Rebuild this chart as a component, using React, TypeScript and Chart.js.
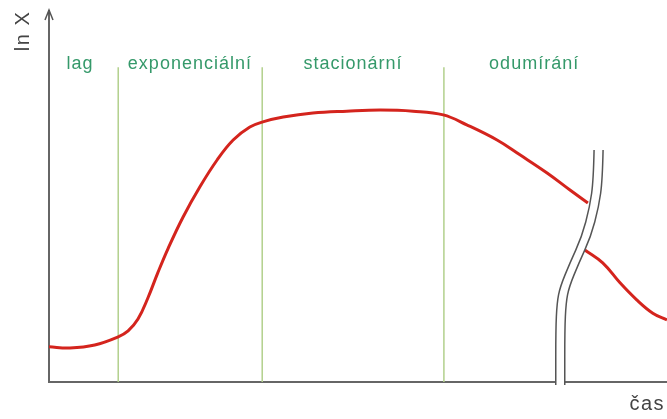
import { useEffect, useRef } from "react";
import { Chart, registerables } from "chart.js";

Chart.register(...registerables);

// Growth curve, first part (time, ln X)
const growthTime = [0, 3.4, 7.4, 11.2, 12.8, 14.4, 16.0, 17.6, 19.3, 21.7, 24.4, 27.2, 29.8, 32.5, 34.6, 37.9, 42.7, 48.2, 53.6, 58.9, 63.8, 67.6, 72.5, 76.2, 80.6, 84.3, 87.2];
const growthLnX = [9.5, 9.2, 10.0, 12.2, 13.8, 17.0, 22.7, 29.5, 36.2, 44.6, 52.7, 60.0, 65.4, 68.9, 70.3, 71.6, 72.7, 73.2, 73.5, 73.2, 72.2, 69.5, 65.4, 61.4, 56.5, 51.9, 48.4];

// Growth curve after the time-axis break
const lateTime = [86.7, 89.6, 92.4, 95.1, 97.7, 100];
const lateLnX = [35.7, 32.2, 26.8, 22.2, 18.6, 16.8];

// Phase boundaries and phase names
const phaseBounds = [11.2, 34.5, 63.9];
const phaseTop = 85.1;
const phaseNames = ["lag", "exponenciální", "stacionární", "odumírání"];
const phaseLabelTime = [5.0, 22.8, 49.2, 78.5];
const phaseLabelLevel = 86;

// Axis break (left edge of the double wavy line)
const breakTime = [88.2, 88.1, 87.5, 86.2, 84.3, 82.7, 82.2, 82.0, 82.0];
const breakLevel = [62.7, 54.6, 47.3, 39.2, 32.2, 25.7, 21.4, 14.1, -0.8];

const yTitle = "ln X";
const xTitle = "čas";

const pairs = (xs: number[], ys: number[]) => xs.map((v, i) => ({ x: v, y: ys[i] }));

const smoothPath = (ctx: CanvasRenderingContext2D, pts: number[][]) => {
  ctx.moveTo(pts[0][0], pts[0][1]);
  for (let i = 1; i < pts.length - 1; i++) {
    const mx = (pts[i][0] + pts[i + 1][0]) / 2;
    const my = (pts[i][1] + pts[i + 1][1]) / 2;
    ctx.quadraticCurveTo(pts[i][0], pts[i][1], mx, my);
  }
  const last = pts[pts.length - 1];
  ctx.lineTo(last[0], last[1]);
};

const overlay = {
  id: "overlay",
  afterDatasetsDraw(chart: any) {
    const { ctx, chartArea } = chart;
    const xs = chart.scales.x;
    const ys = chart.scales.y;
    ctx.save();

    // arrow on the vertical axis
    const ax = chartArea.left;
    ctx.strokeStyle = "#555";
    ctx.lineWidth = 2;
    ctx.beginPath();
    ctx.moveTo(ax, chartArea.top + 2);
    ctx.lineTo(ax, chartArea.top - 2);
    ctx.stroke();
    ctx.lineWidth = 1.5;
    ctx.beginPath();
    ctx.moveTo(ax - 4, chartArea.top + 8);
    ctx.lineTo(ax, chartArea.top - 2);
    ctx.lineTo(ax + 4, chartArea.top + 8);
    ctx.stroke();

    // phase names
    ctx.font = '18px "Liberation Sans", Arial, sans-serif';
    (ctx as any).letterSpacing = "1px";
    ctx.fillStyle = "#35996a";
    ctx.textAlign = "center";
    ctx.textBaseline = "middle";
    phaseNames.forEach((name, i) => {
      ctx.fillText(name, xs.getPixelForValue(phaseLabelTime[i]), ys.getPixelForValue(phaseLabelLevel));
    });

    // axis titles
    ctx.fillStyle = "#444";
    ctx.font = '20px "Liberation Sans", Arial, sans-serif';
    (ctx as any).letterSpacing = "1.5px";
    ctx.save();
    ctx.translate(chartArea.left - 26, chartArea.top + 19);
    ctx.rotate(-Math.PI / 2);
    ctx.fillText(yTitle, 0, 0);
    ctx.restore();
    ctx.textAlign = "right";
    ctx.fillText(xTitle, chartArea.right - 2, chartArea.bottom + 22);
    (ctx as any).letterSpacing = "0px";

    // axis break: white band between two wavy lines
    const gap = 9;
    const left = breakTime.map((t, i) => [xs.getPixelForValue(t), ys.getPixelForValue(breakLevel[i])]);
    const right = left.map(([px, py]) => [px + gap, py]);
    ctx.beginPath();
    smoothPath(ctx, left);
    const rev = [...right].reverse();
    ctx.lineTo(rev[0][0], rev[0][1]);
    for (let i = 1; i < rev.length - 1; i++) {
      const mx = (rev[i][0] + rev[i + 1][0]) / 2;
      const my = (rev[i][1] + rev[i + 1][1]) / 2;
      ctx.quadraticCurveTo(rev[i][0], rev[i][1], mx, my);
    }
    ctx.lineTo(rev[rev.length - 1][0], rev[rev.length - 1][1]);
    ctx.closePath();
    ctx.fillStyle = "#fff";
    ctx.fill();

    ctx.strokeStyle = "#555";
    ctx.lineWidth = 1.5;
    [left, right].forEach((p) => {
      ctx.beginPath();
      smoothPath(ctx, p);
      ctx.stroke();
    });

    ctx.restore();
  },
};

export default function App() {
  const canvasRef = useRef<HTMLCanvasElement | null>(null);

  useEffect(() => {
    const canvas = canvasRef.current;
    if (!canvas) return;

    const curveStyle = {
      borderColor: "#d4241d",
      borderWidth: 3,
      pointRadius: 0,
      tension: 0.4,
      fill: false,
    };

    const boundarySets = phaseBounds.map((b) => ({
      data: [
        { x: b, y: 0 },
        { x: b, y: phaseTop },
      ],
      borderColor: "#b2d08c",
      borderWidth: 1.5,
      pointRadius: 0,
      tension: 0,
      fill: false,
    }));

    const chart = new Chart(canvas, {
      type: "line",
      data: {
        datasets: [
          { data: pairs(growthTime, growthLnX), ...curveStyle },
          { data: pairs(lateTime, lateLnX), ...curveStyle },
          ...boundarySets,
        ],
      },
      options: {
        animation: false,
        responsive: true,
        maintainAspectRatio: false,
        layout: { padding: { left: 49, top: 12, right: 0, bottom: 37 } },
        plugins: { legend: { display: false }, tooltip: { enabled: false } },
        scales: {
          x: {
            type: "linear",
            min: 0,
            max: 100,
            grid: { display: false, drawTicks: false },
            ticks: { display: false },
            border: { display: true, color: "#666", width: 2 },
          },
          y: {
            type: "linear",
            min: 0,
            max: 100,
            grid: { display: false, drawTicks: false },
            ticks: { display: false },
            border: { display: true, color: "#666", width: 2 },
          },
        },
      },
      plugins: [overlay],
    });

    return () => chart.destroy();
  }, []);

  return (
    <div style={{ position: "fixed", left: 0, top: 0, width: 667, height: 419, background: "#fff" }}>
      <canvas ref={canvasRef} />
    </div>
  );
}
